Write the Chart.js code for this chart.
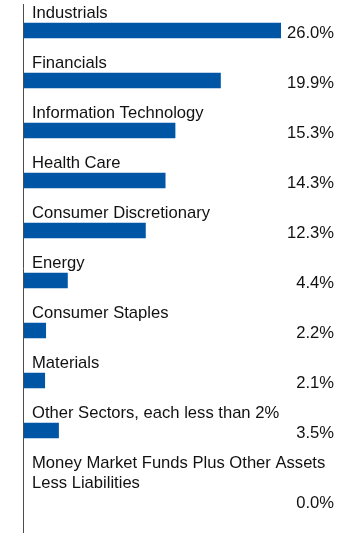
<!DOCTYPE html>
<html>
<head>
    <title>Sector Allocation</title>
    <script src="https://cdn.jsdelivr.net/npm/chart.js"></script>
    <style>
        html, body {
            margin: 0;
            padding: 0;
            background: #ffffff;
        }

        #wrap {
            position: relative;
            width: 360px;
            height: 537px;
        }
    </style>
</head>
<body>
<div id="wrap">
    <canvas id="chart"></canvas>
</div>

<script>
    // Sector names (multi-line labels as arrays)
    var sectors = [
        'Industrials',
        'Financials',
        'Information Technology',
        'Health Care',
        'Consumer Discretionary',
        'Energy',
        'Consumer Staples',
        'Materials',
        'Other Sectors, each less than 2%',
        ['Money Market Funds Plus Other Assets', 'Less Liabilities']
    ];

    // Percent of net assets
    var weights = [26.0, 19.9, 15.3, 14.3, 12.3, 4.4, 2.2, 2.1, 3.5, 0.0];

    var FONT = '16.6px "Liberation Sans", Arial, sans-serif';

    // Draws the axis line, the sector names above bars and the values at the right
    var labelPlugin = {
        id: 'sectorLabels',
        afterDatasetsDraw: function (chart) {
            var ctx = chart.ctx;
            var area = chart.chartArea;
            var meta = chart.getDatasetMeta(0);

            ctx.save();
            // vertical axis line
            ctx.strokeStyle = '#4d4d4d';
            ctx.lineWidth = 1;
            ctx.beginPath();
            ctx.moveTo(area.left - 0.5, 4);
            ctx.lineTo(area.left - 0.5, 533);
            ctx.stroke();

            ctx.font = FONT;
            ctx.fillStyle = '#111111';
            meta.data.forEach(function (bar, i) {
                var lines = [].concat(chart.data.labels[i]);
                var y = bar.y - 12.5;
                ctx.textAlign = 'left';
                lines.forEach(function (line, j) {
                    ctx.fillText(line, area.left + 8, y + j * 20);
                });
                var lastLine = y + (lines.length - 1) * 20;
                ctx.textAlign = 'right';
                ctx.fillText(chart.data.datasets[0].data[i].toFixed(1) + '%', chart.width - 26, lastLine + 19.5);
            });
            ctx.restore();
        }
    };

    var ctx = document.getElementById('chart').getContext('2d');
    var chartInstance = new Chart(ctx, {
        type: 'bar',
        data: {
            labels: sectors,
            datasets: [{
                data: weights,
                backgroundColor: function (c) {
                    return c.raw > 0 ? '#0055a5' : 'rgba(0,0,0,0)';
                },
                borderWidth: 0,
                barThickness: 15
            }]
        },
        options: {
            indexAxis: 'y',
            responsive: true,
            maintainAspectRatio: false,
            animation: false,
            layout: {
                padding: { left: 24, right: 25, top: 5.5, bottom: 31.5 }
            },
            plugins: {
                legend: { display: false },
                tooltip: { enabled: false }
            },
            scales: {
                x: {
                    display: false,
                    min: 0,
                    max: 31.5
                },
                y: {
                    display: false
                }
            }
        },
        plugins: [labelPlugin]
    });
</script>
</body>
</html>
